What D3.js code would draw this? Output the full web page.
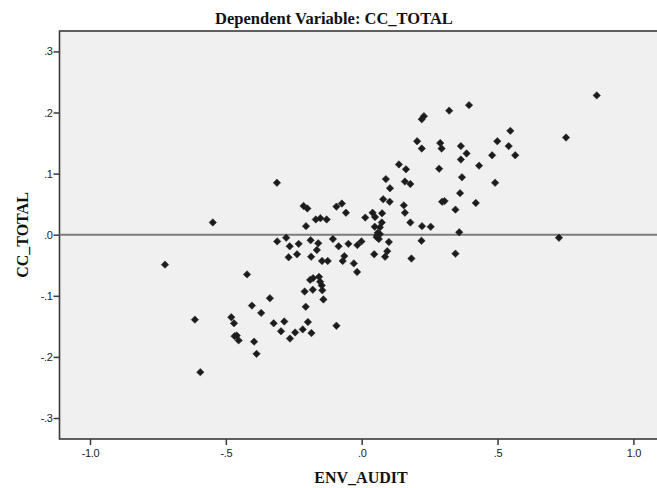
<!DOCTYPE html>
<html>
<head>
<meta charset="utf-8">
<script src="https://cdn.jsdelivr.net/npm/d3@7"></script>
<style>
  html, body { margin: 0; padding: 0; background: #ffffff; }
  svg { display: block; }
</style>
</head>
<body>
<svg id="chart" width="657" height="488"></svg>
<script>
// Partial regression residuals: ENV_AUDIT (x) against CC_TOTAL (y)
const envAudit = [
  -0.724, -0.614, -0.594, -0.548, -0.480, -0.470, -0.468, -0.460, -0.453, -0.422,
  -0.404, -0.396, -0.387, -0.370, -0.338, -0.324, -0.312, -0.311, -0.297, -0.285,
  -0.278, -0.269, -0.265, -0.264, -0.245, -0.238, -0.232, -0.217, -0.214, -0.200,
  -0.210, -0.206, -0.205, -0.198, -0.190, -0.188, -0.186, -0.185, -0.180, -0.179,
  -0.169, -0.165, -0.160, -0.157, -0.153, -0.152, -0.147, -0.146, -0.145, -0.141,
  -0.129, -0.125, -0.106, -0.093, -0.093, -0.085, -0.073, -0.070, -0.064, -0.058,
  -0.049, -0.029, -0.017, -0.016, -0.001, 0.013, 0.040, 0.049, 0.046, 0.048,
  0.055, 0.057, 0.059, 0.063, 0.067, 0.067, 0.074, 0.075, 0.079, 0.086,
  0.089, 0.094, 0.100, 0.103, 0.104, 0.137, 0.155, 0.159, 0.159, 0.163,
  0.179, 0.179, 0.183, 0.204, 0.221, 0.221, 0.229, 0.222, 0.220, 0.254,
  0.285, 0.289, 0.294, 0.296, 0.305, 0.322, 0.345, 0.345, 0.359, 0.362,
  0.365, 0.365, 0.369, 0.386, 0.395, 0.420, 0.432, 0.480, 0.491, 0.499,
  0.541, 0.547, 0.565, 0.726, 0.752, 0.865
];
const ccTotal = [
  -0.049, -0.139, -0.225, 0.020, -0.135, -0.145, -0.166, -0.165, -0.173, -0.065,
  -0.116, -0.175, -0.195, -0.128, -0.104, -0.145, 0.085, -0.011, -0.158, -0.142,
  -0.005, -0.037, -0.019, -0.170, -0.160, -0.032, -0.015, -0.155, 0.047, 0.043,
  -0.093, -0.118, 0.014, -0.143, -0.074, -0.009, -0.036, -0.161, -0.090, -0.071,
  0.025, -0.025, -0.014, -0.069, -0.077, 0.027, -0.083, -0.043, -0.091, -0.106,
  0.025, -0.043, -0.007, 0.046, -0.149, -0.019, 0.051, -0.043, -0.035, 0.036,
  -0.015, -0.047, -0.061, -0.017, -0.011, 0.028, 0.036, 0.029, -0.032, 0.013,
  -0.004, -0.001, 0.003, -0.007, 0.012, 0.001, 0.020, 0.035, 0.058, -0.036,
  0.091, -0.027, -0.012, 0.054, 0.076, 0.115, 0.048, 0.036, 0.087, 0.107,
  0.083, 0.020, -0.039, 0.153, 0.141, 0.189, 0.194, 0.014, -0.010, 0.013,
  0.108, 0.150, 0.141, 0.054, 0.055, 0.203, 0.041, -0.031, 0.004, 0.068,
  0.145, 0.123, 0.094, 0.133, 0.212, 0.052, 0.113, 0.130, 0.085, 0.153,
  0.145, 0.170, 0.130, -0.005, 0.159, 0.228
];
const xTicks = [-1.0, -0.5, 0.0, 0.5, 1.0];
const xTickLabels = ["-1.0", "-.5", ".0", ".5", "1.0"];
const yTicks = [0.3, 0.2, 0.1, 0.0, -0.1, -0.2, -0.3];
const yTickLabels = [".3", ".2", ".1", ".0", "-.1", "-.2", "-.3"];

const titleText = "Dependent Variable: CC_TOTAL";
const xTitle = "ENV_AUDIT";
const yTitle = "CC_TOTAL";

const svg = d3.select("#chart");
const plot = { left: 59.5, top: 31, right: 662, bottom: 439 };

const x = d3.scaleLinear()
  .domain([-1.0, 1.0])
  .range([361.7 - 271.7, 361.7 + 271.7]);
const y = d3.scaleLinear()
  .domain([-0.3, 0.3])
  .range([234.7 + 183.3, 234.7 - 183.3]);

const serif = "'Liberation Serif', 'Times New Roman', serif";
const sans = "'Liberation Sans', Arial, sans-serif";

// plot background
svg.append("rect")
  .attr("x", plot.left).attr("y", plot.top)
  .attr("width", plot.right - plot.left)
  .attr("height", plot.bottom - plot.top)
  .attr("fill", "#f0f0f0")
  .attr("stroke", "#3a3a3a")
  .attr("stroke-width", 1.6);

// horizontal reference line at zero
svg.append("line")
  .attr("x1", plot.left).attr("x2", plot.right)
  .attr("y1", y(0)).attr("y2", y(0))
  .attr("stroke", "#7d7d7d")
  .attr("stroke-width", 2);

// axes
const xAxis = d3.axisBottom(x)
  .tickValues(xTicks)
  .tickFormat((d, i) => xTickLabels[i])
  .tickSize(6)
  .tickPadding(4);
const gx = svg.append("g")
  .attr("transform", `translate(0,${plot.bottom})`)
  .call(xAxis);
gx.select(".domain").remove();

const yAxis = d3.axisLeft(y)
  .tickValues(yTicks)
  .tickFormat((d, i) => yTickLabels[i])
  .tickSize(6)
  .tickPadding(1);
const gy = svg.append("g")
  .attr("transform", `translate(${plot.left},0)`)
  .call(yAxis);
gy.select(".domain").remove();

[gx, gy].forEach(g => {
  g.selectAll(".tick line").attr("stroke", "#3a3a3a").attr("stroke-width", 1.5);
  g.selectAll(".tick text")
    .attr("fill", "#222")
    .style("font-family", sans)
    .style("font-size", "11px")
    .style("letter-spacing", "-0.4px");
});

// scatter points as diamonds
const r = 3.7;
const diamond = `M0,${-r}L${r},0L0,${r}L${-r},0Z`;
svg.append("g")
  .selectAll("path")
  .data(envAudit.map((v, i) => [v, ccTotal[i]]))
  .join("path")
  .attr("d", diamond)
  .attr("transform", d => `translate(${x(d[0])},${y(d[1])})`)
  .attr("fill", "#1c1c1c")
  .attr("stroke", "#2a2a2a")
  .attr("stroke-width", 0.6);

// titles
svg.append("text")
  .attr("x", 334).attr("y", 24)
  .attr("text-anchor", "middle")
  .style("font-family", serif)
  .style("font-weight", "bold")
  .style("font-size", "16.5px")
  .attr("fill", "#111")
  .text(titleText);

svg.append("text")
  .attr("x", 361).attr("y", 483)
  .attr("text-anchor", "middle")
  .style("font-family", serif)
  .style("font-weight", "bold")
  .style("font-size", "16px")
  .attr("fill", "#111")
  .text(xTitle);

svg.append("text")
  .attr("transform", `translate(28,235) rotate(-90)`)
  .attr("text-anchor", "middle")
  .style("font-family", serif)
  .style("font-weight", "bold")
  .style("font-size", "16px")
  .attr("fill", "#111")
  .text(yTitle);
</script>
</body>
</html>
